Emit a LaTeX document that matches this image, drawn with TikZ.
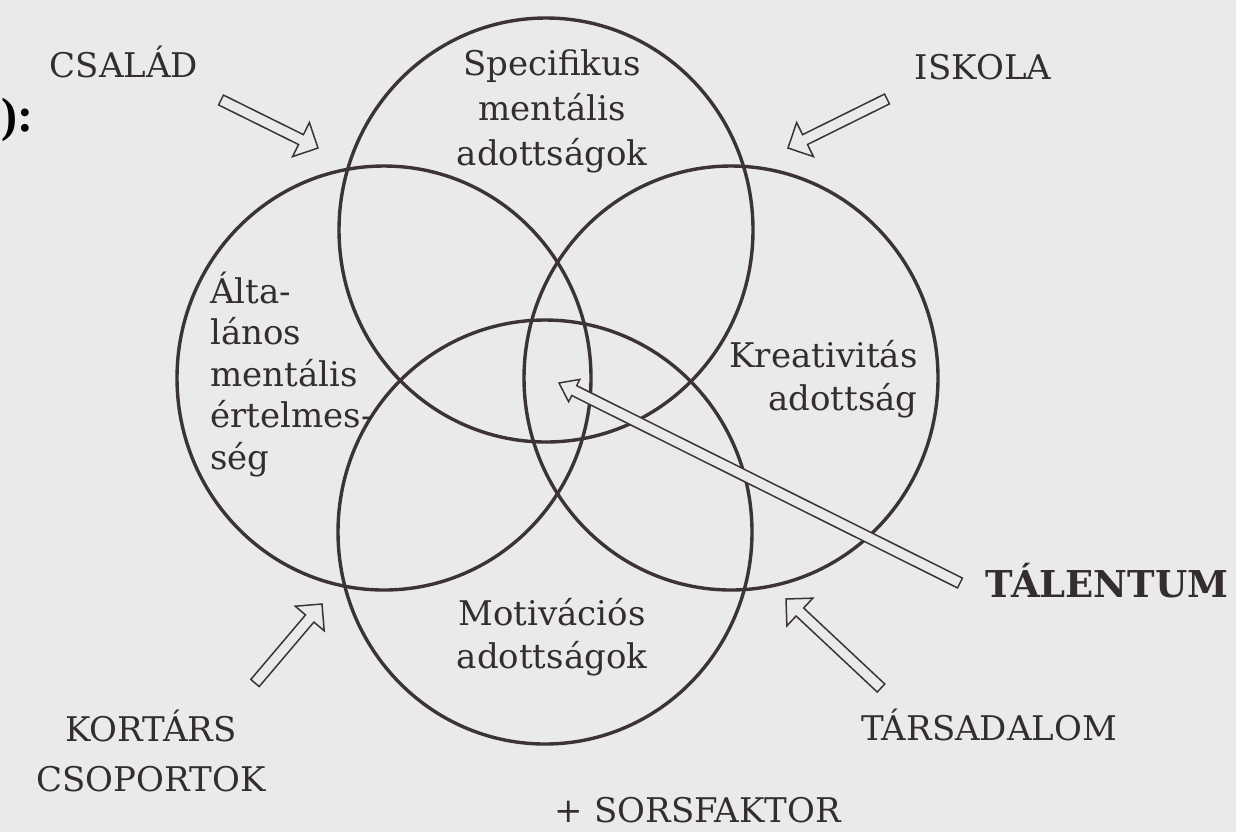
\documentclass[tikz,border=0pt]{standalone}
\usepackage{fontspec}
\setmainfont{DejaVu Serif}
\newfontfamily\colonfont{Liberation Serif}
\usetikzlibrary{calc}
\definecolor{paper}{RGB}{234,234,234}
\definecolor{ink}{RGB}{52,45,47}
\definecolor{linecol}{RGB}{60,51,53}
% hollow block arrow: #1 tail, #2 tip, #3 shaft half width, #4 head half width, #5 head length
\newcommand{\blockarrow}[5]{%
  \coordinate (hb) at ($(#2)!#5!(#1)$);
  \draw[hollow] ($(#1)!#3!90:(#2)$) -- ($(hb)!#3!90:(#2)$) -- ($(hb)!#4!90:(#2)$) -- (#2)
    -- ($(hb)!#4!-90:(#2)$) -- ($(hb)!#3!-90:(#2)$) -- ($(#1)!#3!-90:(#2)$) -- cycle;}
\begin{document}
\begin{tikzpicture}[x=0.5pt,y=-0.5pt,
  circ/.style={draw=linecol, line width=1.7pt},
  hollow/.style={draw=linecol, fill=paper, line width=0.75pt, line join=miter},
  lbl/.style={text=ink, inner sep=0pt, anchor=base},
  lowfont/.style={font=\fontsize{17}{#1}\selectfont},
  capfont/.style={font=\fontsize{17}{#1}\selectfont}]
\useasboundingbox (0,0) rectangle (1236,832);
\fill[paper] (0,0) rectangle (1236,832);

% circles
\coordinate (ctop) at (546,230);
\coordinate (cbot) at (545,532);
\coordinate (cleft) at (384,378);
\coordinate (cright) at (731,378);
\draw[circ] (ctop) ellipse [x radius=207, y radius=212];
\draw[circ] (cbot) ellipse [x radius=207, y radius=212];
\draw[circ] (cleft) ellipse [x radius=207, y radius=212];
\draw[circ] (cright) ellipse [x radius=207, y radius=212];

% arrow end points
\coordinate (aCsT) at (221,100);  \coordinate (aCsH) at (318,148);
\coordinate (aIsT) at (887,99);   \coordinate (aIsH) at (788,148);
\coordinate (aKoT) at (255,683);  \coordinate (aKoH) at (322,604);
\coordinate (aTaT) at (881,688);  \coordinate (aTaH) at (786,599);
\coordinate (aTlT) at (960,583);  \coordinate (aTlH) at (559,383);

\blockarrow{aCsT}{aCsH}{2.75pt}{9.5pt}{9.5pt}
\blockarrow{aIsT}{aIsH}{2.75pt}{9.5pt}{9.5pt}
\blockarrow{aKoT}{aKoH}{2.75pt}{9.5pt}{9.5pt}
\blockarrow{aTaT}{aTaH}{2.75pt}{9.5pt}{9.5pt}
\blockarrow{aTlT}{aTlH}{2.75pt}{6.25pt}{8.5pt}

% circle texts
\node[lbl, lowfont=22.5] (spec) at (552,75)
  {\begin{tabular}[t]{@{}c@{}}Specifikus\\mentális\\adottságok\end{tabular}};
\node[lbl, lowfont=20.75, anchor=base west] (altal) at (210,303)
  {\begin{tabular}[t]{@{}l@{}}Álta-\\lános\\mentális\\értelmes-\\ség\end{tabular}};
\node[lbl, lowfont=21.5, anchor=base east] (kreat) at (918,367)
  {\begin{tabular}[t]{@{}r@{}}Kreativitás\\adottság\end{tabular}};
\node[lbl, lowfont=21.5] (motiv) at (552,625)
  {\begin{tabular}[t]{@{}c@{}}Motivációs\\adottságok\end{tabular}};

% outer labels
\node[lbl, capfont=22] (csalad) at (124,77) {CSALÁD};
\node[lbl, capfont=22] (iskola) at (983,79) {ISKOLA};
\node[lbl, capfont=25] (kortars) at (151,741)
  {\begin{tabular}[t]{@{}c@{}}KORTÁRS\\CSOPORTOK\end{tabular}};
\node[lbl, capfont=22] (tarsad) at (989,740) {TÁRSADALOM};
\node[lbl, capfont=22] (sors) at (698,822) {+ SORSFAKTOR};
\node[lbl, font=\fontsize{18.5}{22}\selectfont\bfseries] (talent) at (1107,597) {TÁLENTUM};
\node[anchor=base east, inner sep=0pt, text=black, font=\fontsize{24}{24}\selectfont\colonfont\bfseries] (dcolon) at (34,131) {):};
\end{tikzpicture}
\end{document}
